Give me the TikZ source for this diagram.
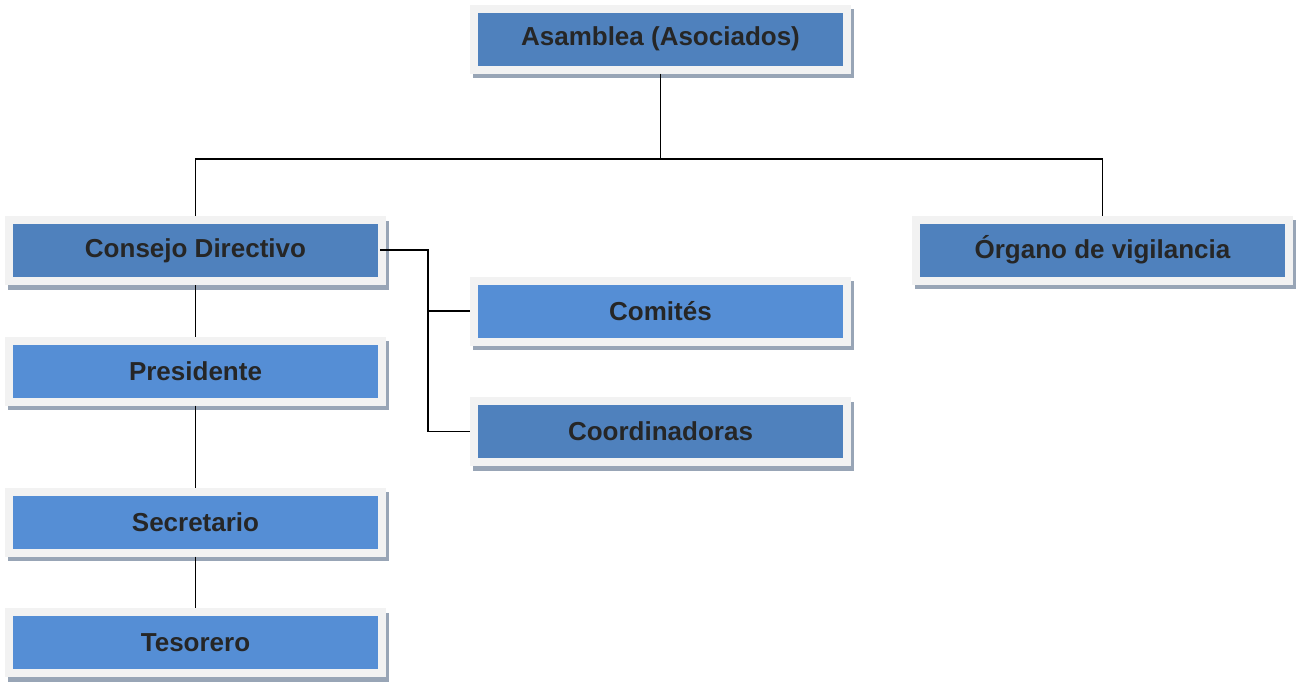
\documentclass[tikz,border=0pt]{standalone}
\usepackage{fontspec}
\setmainfont{Liberation Sans}
\definecolor{darkblue}{HTML}{4F81BD}
\definecolor{lightblue}{HTML}{558ED5}
\definecolor{framegray}{HTML}{F2F2F2}
\definecolor{shadowc}{HTML}{98A5B6}
\definecolor{txt}{HTML}{262626}
\tikzset{
  orgbox/.style={draw=framegray, line width=8pt, minimum width=373pt, minimum height=61pt,
    inner sep=0pt, font=\fontsize{26}{30}\selectfont\bfseries, text=txt,
    preaction={draw=shadowc, line width=8pt, transform canvas={xshift=2.5pt,yshift=-4.5pt}}},
  dark/.style={orgbox, fill=darkblue},
  light/.style={orgbox, fill=lightblue},
  conn/.style={draw=black, line width=1.6pt}
}
\begin{document}
\begin{tikzpicture}[x=1pt,y=-1pt]
\useasboundingbox (0,0) rectangle (1297,681);
\node[dark]  (asam) at (660.5,39)    {Asamblea (Asociados)};
\node[dark]  (cons) at (195.5,250.5) {Consejo Directivo};
\node[dark]  (org)  at (1102.5,250)  {Órgano de vigilancia};
\node[light] (com)  at (660.5,311)   {Comités};
\node[dark]  (coor) at (660.5,431.5) {Coordinadoras};
\node[light] (pres) at (195.5,371)   {Presidente};
\node[light] (sec)  at (195.5,522)   {Secretario};
\node[light] (tes)  at (195.5,642.5) {Tesorero};
\coordinate (bus) at (660.5,159);
\coordinate (br) at (428,250);
\draw[conn] (asam.south) -- (bus);
\draw[conn] (cons.north) |- (bus) -| (org.north);
\draw[conn] ([xshift=-6pt]cons.east |- br) -- (br) |- (coor.west);
\draw[conn] (br |- com.west) -- (com.west);
\draw[conn] (cons.south) -- (pres.north);
\draw[conn] (pres.south) -- (sec.north);
\draw[conn] (sec.south) -- (tes.north);
\end{tikzpicture}
\end{document}
